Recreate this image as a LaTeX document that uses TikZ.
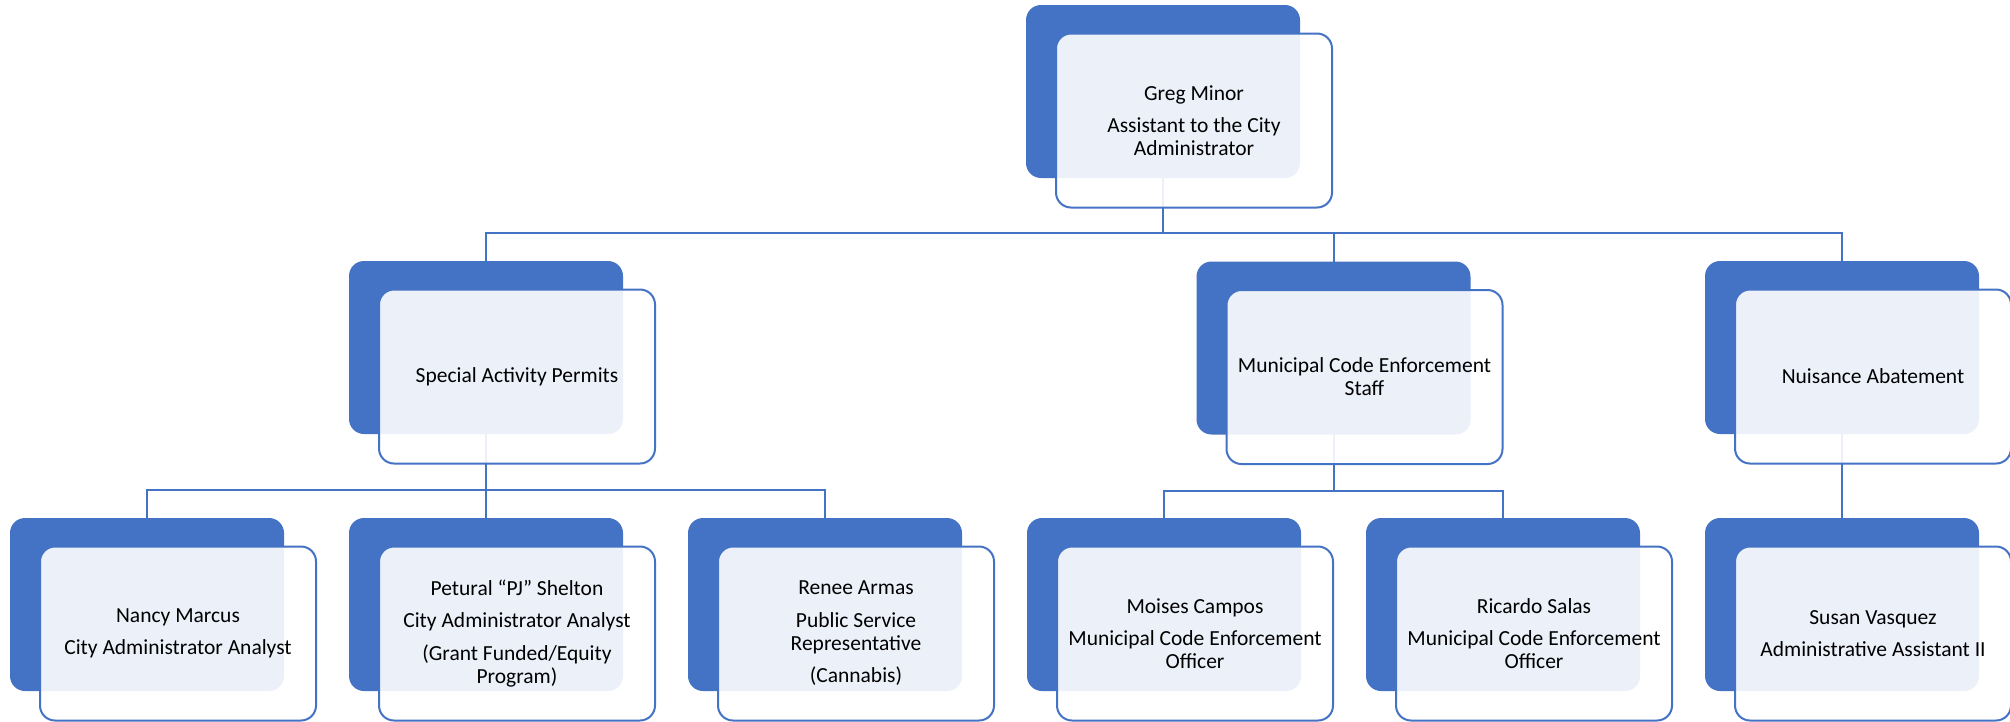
\documentclass[tikz,border=0pt]{standalone}
\usepackage{fontspec}
\setmainfont{Carlito}
\usepackage{tikz}
\usetikzlibrary{positioning, backgrounds, calc}
\definecolor{orgblue}{HTML}{4472C4}

\tikzset{
	back/.style={fill=orgblue, rounded corners=15pt, minimum width=274pt,
		minimum height=173pt, inner sep=0pt, outer sep=0pt},
	card/.style={draw=orgblue, line width=2pt, fill=white, fill opacity=0.9,
		text opacity=1, rounded corners=15pt, minimum width=276pt,
		minimum height=174pt, inner sep=0pt, align=center,
		font=\fontsize{21.5}{23}\selectfont},
	link/.style={draw=orgblue, line width=2pt},
}

\begin{document}
\begin{tikzpicture}[x=1pt, y=-1pt]
	\useasboundingbox (0,0) rectangle (2010,721);

	% back plates
	\node[back] (nancy) at (147,604.5) {};
	\node[back, right=65pt of nancy] (petural) {};
	\node[back, right=65pt of petural] (renee) {};
	\node[back, right=65pt of renee] (moises) {};
	\node[back, right=65pt of moises] (ricardo) {};
	\node[back, right=65pt of ricardo] (susan) {};
	\node[back, above=84pt of petural] (spa) {};
	\node[back, above=84pt of susan] (nui) {};
	\node[back] (mce) at ($(moises)!0.5!(ricardo)+(0,-256.5)$) {};
	\node[back] (greg) at (1163,91.5) {};

	% cards
	\node[card] (gregT) at ([shift={(31,29)}]greg) {Greg Minor\\[9.5pt]Assistant to the City\\Administrator};
	\node[card] (spaT) at ([shift={(31,29)}]spa) {Special Activity Permits};
	\node[card] (mceT) at ([shift={(31,29)}]mce) {Municipal Code Enforcement\\Staff};
	\node[card] (nuiT) at ([shift={(31,29)}]nui) {Nuisance Abatement};
	\node[card] (nancyT) at ([shift={(31,29)}]nancy) {Nancy Marcus\\[9.5pt]City Administrator Analyst};
	\node[card] (peturalT) at ([shift={(31,29)}]petural) {Petural “PJ” Shelton\\[9.5pt]City Administrator Analyst\\[9.5pt](Grant Funded/Equity\\Program)};
	\node[card] (reneeT) at ([shift={(31,29)}]renee) {Renee Armas\\[9.5pt]Public Service\\Representative\\[9.5pt](Cannabis)};
	\node[card] (moisesT) at ([shift={(31,29)}]moises) {Moises Campos\\[9.5pt]Municipal Code Enforcement\\Officer};
	\node[card] (ricardoT) at ([shift={(31,29)}]ricardo) {Ricardo Salas\\[9.5pt]Municipal Code Enforcement\\Officer};
	\node[card] (susanT) at ([shift={(31,29)}]susan) {Susan Vasquez\\[9.5pt]Administrative Assistant II};

	\begin{scope}[on background layer]
		\draw[link] (greg.south) -- ++(0,55) -| (spa.north);
		\draw[link] (greg.south) -- ++(0,55) -| (mce.north);
		\draw[link] (greg.south) -- ++(0,55) -| (nui.north);
		\draw[link] (spa.south) -- ++(0,56) -| (nancy.north);
		\draw[link] (spa.south) -- ++(0,56) -| (petural.north);
		\draw[link] (spa.south) -- ++(0,56) -| (renee.north);
		\draw[link] (mce.south) -- ++(0,56) -| (moises.north);
		\draw[link] (mce.south) -- ++(0,56) -| (ricardo.north);
		\draw[link] (nui.south) -- (susan.north);
	\end{scope}
\end{tikzpicture}
\end{document}
